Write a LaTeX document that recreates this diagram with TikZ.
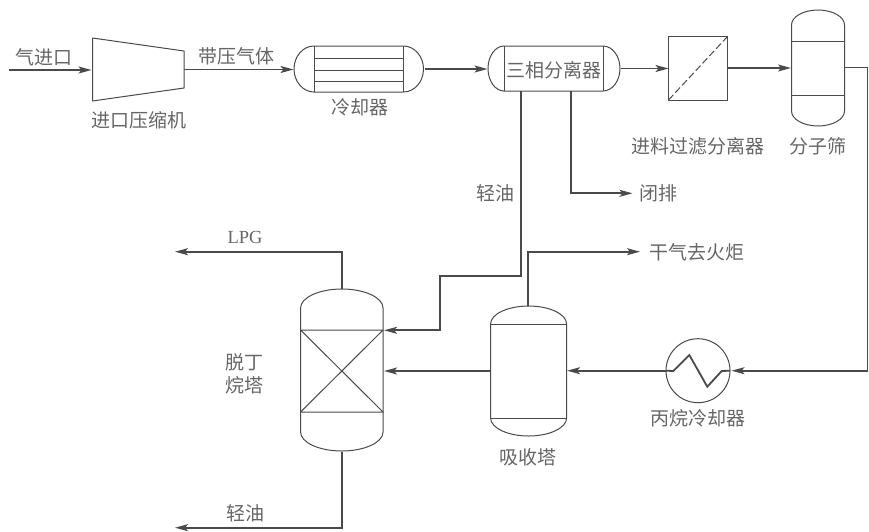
\documentclass[tikz,border=0pt]{standalone}
\usepackage{fontspec}
\setmainfont{Liberation Serif}
\newfontfamily\cjk{Noto Sans CJK SC}
\usetikzlibrary{arrows.meta,calc}
\definecolor{ink}{HTML}{4A4A4A}
\definecolor{labelink}{HTML}{666666}
\tikzset{
  thin line/.style={draw=ink,line width=1pt,line join=round},
  flow/.style={draw=ink,line width=1.8pt,line join=miter,-{Stealth[length=13pt,width=7pt,inset=3pt]}},
  pipe/.style={draw=ink,line width=1.8pt},
  lab/.style={text=labelink,font=\cjk\fontsize{19}{23}\selectfont,inner sep=0pt,align=center},
  latin/.style={text=labelink,font=\fontsize{18.5}{23}\selectfont,inner sep=0pt},
  endpt/.style={inner sep=0pt,outer sep=0pt,minimum size=0pt}
}
% name, dome height, half width  (picture y axis runs downwards)
\newcommand{\vvessel}[3]{%
  \draw[thin line] (#1.north west)
    .. controls ($(#1.north west)+(0,-0.55*#2)$) and ($(#1.north)+(-0.55*#3,-#2)$) .. ($(#1.north)+(0,-#2)$)
    .. controls ($(#1.north)+(0.55*#3,-#2)$) and ($(#1.north east)+(0,-0.55*#2)$) .. (#1.north east)
    -- (#1.south east)
    .. controls ($(#1.south east)+(0,0.55*#2)$) and ($(#1.south)+(0.55*#3,#2)$) .. ($(#1.south)+(0,#2)$)
    .. controls ($(#1.south)+(-0.55*#3,#2)$) and ($(#1.south west)+(0,0.55*#2)$) .. (#1.south west)
    -- cycle;
}
% name, half height, left cap, right cap
\newcommand{\hvessel}[4]{%
  \draw[thin line] (#1.north west) -- (#1.north east)
    .. controls ($(#1.north east)+(0.55*#4,0)$) and ($(#1.east)+(#4,-0.55*#2)$) .. ($(#1.east)+(#4,0)$)
    .. controls ($(#1.east)+(#4,0.55*#2)$) and ($(#1.south east)+(0.55*#4,0)$) .. (#1.south east)
    -- (#1.south west)
    .. controls ($(#1.south west)+(-0.55*#3,0)$) and ($(#1.west)+(-#3,0.55*#2)$) .. ($(#1.west)+(-#3,0)$)
    .. controls ($(#1.west)+(-#3,-0.55*#2)$) and ($(#1.north west)+(-0.55*#3,0)$) .. (#1.north west)
    -- cycle;
  \draw[thin line] (#1.north west) -- (#1.south west) (#1.north east) -- (#1.south east);
}
\begin{document}
\begin{tikzpicture}[x=1pt,y=-1pt]
\useasboundingbox (0,0) rectangle (869,531);
\fill[white] (0,0) rectangle (869,531);

% equipment frames (straight part of each vessel)
\node[endpt,minimum width=91.5pt,minimum height=63pt] (comp) at (138.25,69.5) {};
\node[endpt,minimum width=89.5pt,minimum height=46pt] (cool) at (358.75,69) {};
\node[endpt,minimum width=99pt,minimum height=45pt] (sep) at (553.5,68.5) {};
\node[draw=ink,line width=1pt,endpt,minimum width=59pt,minimum height=63.5pt] (filt) at (698,68.25) {};
\node[endpt,minimum width=53pt,minimum height=86pt] (sieve) at (818,68) {};
\node[endpt,minimum width=82.5pt,minimum height=124pt] (tower) at (341.8,370) {};
\node[endpt,minimum width=76pt,minimum height=94pt] (abs) at (528.6,371) {};
\node[draw=ink,line width=1pt,circle,endpt,minimum size=64pt] (hx) at (698,370.7) {};

% compressor
\draw[thin line] (92.5,38) -- (184,51) -- (184,88) -- (92.5,101) -- cycle;

% cooler
\hvessel{cool}{23}{20}{20}
\foreach \y in {58.5,70,81} \draw[thin line] (cool.west |- 0,\y) -- (cool.east |- 0,\y);

% three-phase separator
\hvessel{sep}{22.5}{16}{17}

% filter diagonal
\draw[draw=ink,line width=1pt,dash pattern=on 7pt off 3pt] (filt.south west) -- (filt.north east);

% molecular sieve
\vvessel{sieve}{15}{26.5}
\draw[thin line] (sieve.west |- 0,41) -- (sieve.east |- 0,41) (sieve.west |- 0,95) -- (sieve.east |- 0,95);

% debutanizer
\vvessel{tower}{19}{41.25}
\draw[thin line] (tower.west |- 0,330) -- (tower.east |- 0,330) -- (tower.west |- 0,412) -- (tower.east |- 0,412) -- (tower.west |- 0,330);

% absorber
\vvessel{abs}{18}{38}
\draw[thin line] (abs.west |- 0,324.3) -- (abs.east |- 0,324.3) (abs.west |- 0,418.3) -- (abs.east |- 0,418.3);

% free ends and junctions
\coordinate (c-in) at (9,70);
\coordinate (comp-in) at (91.5,70);
\coordinate (comp-out) at (184,69.5);
\coordinate (cool-in) at (293.5,69.5);
\coordinate (cool-out) at (424.5,69);
\coordinate (sep-in) at (487.5,69);
\coordinate (sep-out) at (620.5,68.5);
\coordinate (sieve-in) at (791,68);
\coordinate (sieve-out) at (844.5,67.5);
\coordinate (lpg-end) at (175,251.7);
\coordinate (oil-end) at (175,527.7);
\coordinate (closed-end) at (632.5,193.3);
\coordinate (dry-end) at (640,251.7);
\coordinate (tower-top) at (341.8,289);
\coordinate (tower-bot) at (341.8,452.3);
\coordinate (abs-top) at (528.3,306);

% zigzag
\draw[pipe,line join=miter] (hx.east) -- (721.7,371) -- (707.3,386.7) -- (689.3,355) -- (673.3,371) -- (hx.west);

% streams
\draw[flow] (c-in) -- (comp-in);
\draw[flow] (comp-out) -- (cool-in);
\draw[flow] (cool-out) -- (sep-in);
\draw[flow] (sep-out) -- (filt.west |- sep-out);
\draw[flow] (filt.east |- sieve-in) -- (sieve-in);
\draw[flow] (sieve-out) -| (867.5,370.7) -- ($(hx.east)+(1.5,0)$);
\draw[flow] (hx.west) -- ($(abs.east |- hx.west)+(0.5,0)$);
\draw[flow] (abs.west |- 0,371) -- ($(tower.east |- 0,371)+(1,0)$);
\draw[flow] (521,91) -- (521,275.7) -- (440,275.7) -- (440,330.3) -- ($(tower.east |- 0,330.3)+(1,0)$);
\draw[flow] (570.7,91) |- (closed-end);
\draw[flow] (abs-top) |- (dry-end);
\draw[flow] (tower-top) |- (lpg-end);
\draw[flow] (tower-bot) |- (oil-end);

% labels
\node[lab] (t1) at (44,57) {气进口};
\node[lab] (t2) at (139,120) {进口压缩机};
\node[lab] (t3) at (236,56) {带压气体};
\node[lab] (t4) at (360,107) {冷却器};
\node[lab] (t5) at (554,70) {三相分离器};
\node[lab] (t6) at (698,146) {进料过滤分离器};
\node[lab] (t7) at (818,146) {分子筛};
\node[lab] (t8) at (495.7,193) {轻油};
\node[lab] (t9) at (658,193) {闭排};
\node[latin] (t10) at (245,237.5) {LPG};
\node[lab] (t11) at (696.7,252) {干气去火炬};
\node[lab] (t12) at (244,362) {脱丁};
\node[lab] (t13) at (244,385) {烷塔};
\node[lab] (t14) at (698,418) {丙烷冷却器};
\node[lab] (t15) at (528,457) {吸收塔};
\node[lab] (t16) at (245.5,513) {轻油};
\end{tikzpicture}
\end{document}
